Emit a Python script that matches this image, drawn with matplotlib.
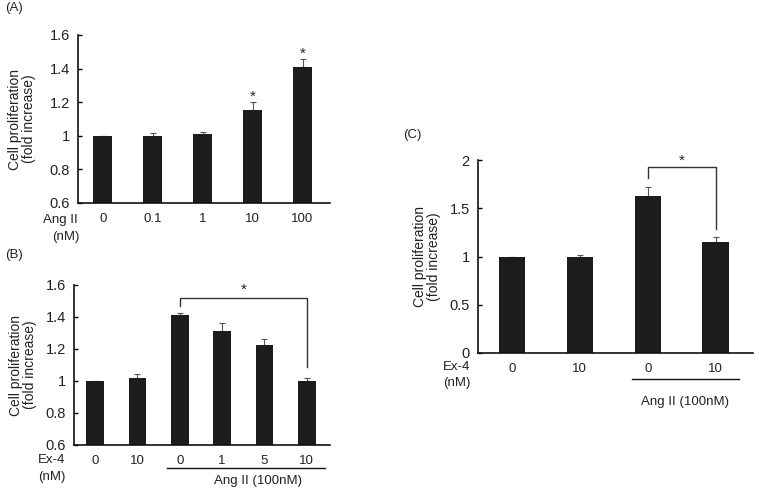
import matplotlib
matplotlib.use("Agg")
import matplotlib.pyplot as plt

plt.rcParams['font.family'] = ['Liberation Sans', 'DejaVu Sans']

# Panel A
a_labels = ["0", "0.1", "1", "10", "100"]
a_values = [1.0, 1.0, 1.01, 1.155, 1.41]
a_err = [0.0, 0.015, 0.012, 0.045, 0.05]
a_star = [False, False, False, True, True]

# Panel B
b_labels = ["0", "10", "0", "1", "5", "10"]
b_values = [1.0, 1.02, 1.415, 1.31, 1.225, 1.0]
b_err = [0.0, 0.022, 0.012, 0.055, 0.035, 0.02]

# Panel C
c_labels = ["0", "10", "0", "10"]
c_values = [1.0, 1.0, 1.625, 1.155]
c_err = [0.0, 0.015, 0.1, 0.05]

W, H = 759, 491
fig = plt.figure(figsize=(W / 100, H / 100), dpi=100)

BAR = "#1c1c1c"
ERR = "#555555"
FS = 9.5


def ax_px(left, right, top, bottom):
    return fig.add_axes([left / W, 1 - bottom / H, (right - left) / W, (bottom - top) / H])


def style(ax, ylim, yticks, yticklabels):
    ax.set_ylim(*ylim)
    ax.set_yticks(yticks)
    ax.set_yticklabels(yticklabels, fontsize=FS + 1, color="#222222")
    ax.spines['top'].set_visible(False)
    ax.spines['right'].set_visible(False)
    for s in ['left', 'bottom']:
        ax.spines[s].set_linewidth(1.2)
        ax.spines[s].set_color("#111111")
    ax.tick_params(axis='y', direction='in', length=3, width=1, pad=6)
    ax.tick_params(axis='x', length=0, pad=7, labelsize=FS, labelcolor="#222222")
    ax.set_ylabel("Cell proliferation\n(fold increase)", fontsize=FS + 0.5,
                  color="#222222", linespacing=1.0)


def bars(ax, labels, values, err, width):
    x = list(range(len(values)))
    ax.bar(x, values, width=width, color=BAR, zorder=2)
    ax.errorbar(x, values, yerr=[[0] * len(err), err], fmt='none', ecolor=ERR,
                elinewidth=0.8, capsize=2, capthick=0.8, zorder=1)
    ax.set_xticks(x)
    ax.set_xticklabels(labels)
    ax.set_xlim(-0.5, len(values) - 0.5 + 0.05)
    return x


# ---- A ----
axA = ax_px(78, 330, 35, 203)
xA = bars(axA, a_labels, a_values, a_err, 0.38)
style(axA, (0.6, 1.6), [0.6, 0.8, 1.0, 1.2, 1.4, 1.6], ["0.6", "0.8", "1", "1.2", "1.4", "1.6"])
axA.yaxis.set_label_coords(-0.165, 0.5)
for xi, v, e, s in zip(xA, a_values, a_err, a_star):
    if s:
        axA.text(xi, v + e + 0.03, "*", ha='center', va='center', fontsize=11, color="#222222")
fig.text(60 / W, 1 - 220 / H, "Ang II", ha='center', va='center', fontsize=FS, color="#222222")
fig.text(66 / W, 1 - 237 / H, "(nM)", ha='center', va='center', fontsize=FS, color="#222222")
fig.text(5 / W, 1 - 8 / H, "(A)", ha='left', va='center', fontsize=FS, color="#222222")

# ---- B ----
axB = ax_px(74, 330, 285, 445)
xB = bars(axB, b_labels, b_values, b_err, 0.42)
style(axB, (0.6, 1.6), [0.6, 0.8, 1.0, 1.2, 1.4, 1.6], ["0.6", "0.8", "1", "1.2", "1.4", "1.6"])
axB.yaxis.set_label_coords(-0.145, 0.5)
axB.plot([xB[2], xB[2], xB[5], xB[5]], [1.47, 1.52, 1.52, 1.09], color="#333333", lw=1,
         clip_on=False)
axB.text((xB[2] + xB[5]) / 2, 1.57, "*", ha='center', va='center', fontsize=11, color="#222222")
fig.text(52 / W, 1 - 460 / H, "Ex-4", ha='center', va='center', fontsize=FS, color="#222222")
fig.text(52 / W, 1 - 477 / H, "(nM)", ha='center', va='center', fontsize=FS, color="#222222")
fig.add_artist(plt.Line2D([167 / W, 325 / W], [1 - 468 / H, 1 - 468 / H], color="#111111", lw=1))
fig.text(258 / W, 1 - 481 / H, "Ang II (100nM)", ha='center', va='center', fontsize=FS, color="#222222")
fig.text(5 / W, 1 - 255 / H, "(B)", ha='left', va='center', fontsize=FS, color="#222222")

# ---- C ----
axC = ax_px(478, 753, 160, 353)
xC = bars(axC, c_labels, c_values, c_err, 0.39)
style(axC, (0, 2), [0, 0.5, 1.0, 1.5, 2.0], ["0", "0.5", "1", "1.5", "2"])
axC.yaxis.set_label_coords(-0.135, 0.5)
axC.plot([xC[2], xC[2], xC[3], xC[3]], [1.81, 1.93, 1.93, 1.28], color="#333333", lw=1,
         clip_on=False)
axC.text((xC[2] + xC[3]) / 2, 1.99, "*", ha='center', va='center', fontsize=11, color="#222222")
fig.text(457 / W, 1 - 367 / H, "Ex-4", ha='center', va='center', fontsize=FS, color="#222222")
fig.text(457 / W, 1 - 383 / H, "(nM)", ha='center', va='center', fontsize=FS, color="#222222")
fig.add_artist(plt.Line2D([632 / W, 739 / W], [1 - 379 / H, 1 - 379 / H], color="#111111", lw=1))
fig.text(685 / W, 1 - 402 / H, "Ang II (100nM)", ha='center', va='center', fontsize=FS, color="#222222")
fig.text(403 / W, 1 - 135 / H, "(C)", ha='left', va='center', fontsize=FS, color="#222222")

fig.savefig("out.png", dpi=100)
